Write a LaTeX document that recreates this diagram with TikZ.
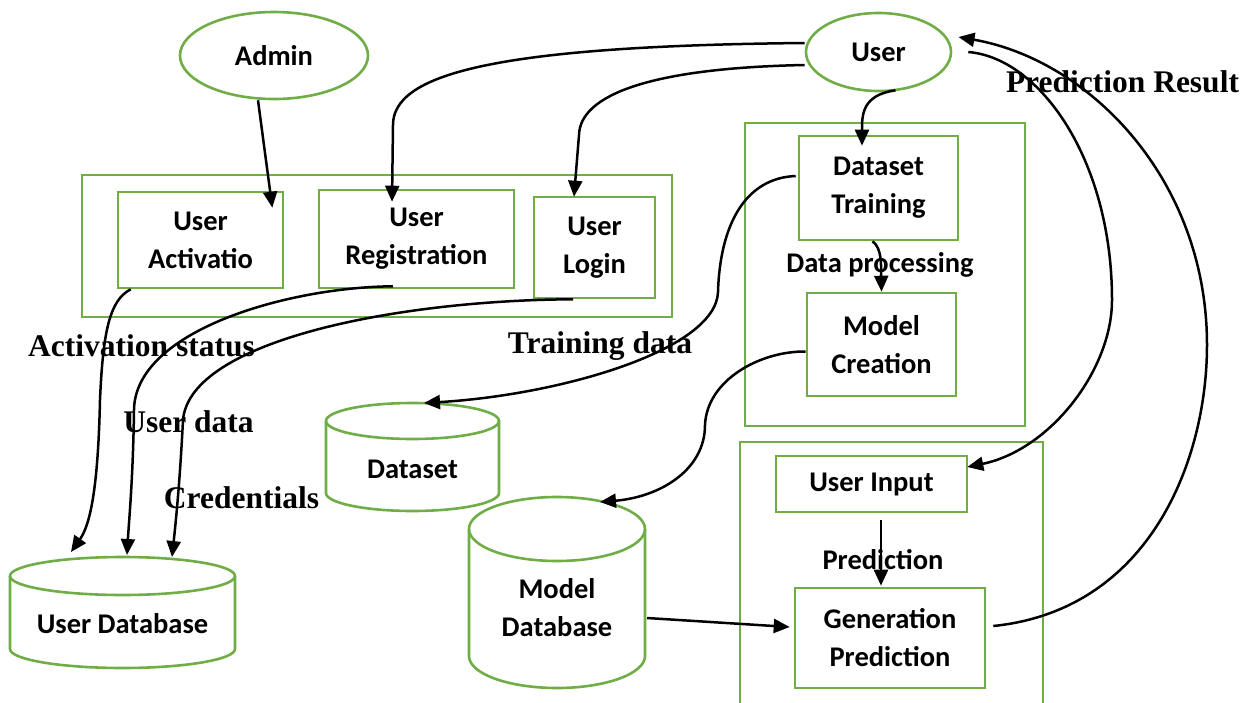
\documentclass[tikz,border=0pt]{standalone}
\usepackage{fontspec}
\setmainfont{Carlito}
\newfontfamily\tnr{Liberation Serif}
\usetikzlibrary{arrows.meta,shapes.geometric,calc}
\definecolor{grn}{RGB}{112,173,71}
\newcommand\cfont{\fontsize{28.5}{38}\selectfont\bfseries}
\newcommand\tfont{\tnr\fontsize{31.5}{36}\selectfont\bfseries}
% cylinder: cx, rx, y of top ellipse centre, y of bottom ellipse centre, ry
\newcommand\drawcyl[5]{%
  \pgfmathsetmacro\cxl{#1-#2}\pgfmathsetmacro\cxr{#1+#2}%
  \pgfmathsetmacro\kx{0.5523*#2}\pgfmathsetmacro\ky{0.5523*#5}%
  \draw[cylline] (#1,#3) ellipse [x radius=#2pt, y radius=#5pt];
  \draw[cylline] (\cxl,#3) -- (\cxl,#4) .. controls (\cxl,#4+\ky) and (#1-\kx,#4+#5) .. (#1,#4+#5)
     .. controls (#1+\kx,#4+#5) and (\cxr,#4+\ky) .. (\cxr,#4) -- (\cxr,#3);
}
\begin{document}
\begin{tikzpicture}[x=1pt,y=-1pt,
  box/.style={draw=grn, line width=2.6pt, inner sep=0pt, align=center, font=\cfont},
  cont/.style={draw=grn, line width=2.6pt, inner sep=0pt},
  actor/.style={ellipse, draw=grn, line width=2.6pt, inner sep=0pt, font=\cfont},
  cylline/.style={draw=grn, line width=2.6pt},
  txt/.style={inner sep=0pt, align=center, font=\cfont},
  lbl/.style={inner sep=0pt, font=\tfont},
  conn/.style={line width=2.5pt, -{Triangle[length=16pt,width=14pt]}}]
\useasboundingbox (0,0) rectangle (1251,702);

% containers
\node[cont, minimum width=590pt, minimum height=142pt] (c1) at (377,246) {};
\node[cont, minimum width=280pt, minimum height=303pt] (c2) at (885,274.5) {};
\node[cont, minimum width=303pt, minimum height=280pt] (c3) at (891.5,582) {};

% actors
\node[actor, minimum width=188pt, minimum height=87pt] (admin) at (274,55.5) {Admin};
\node[actor, minimum width=145pt, minimum height=78pt] (user) at (878.5,52) {User};

% process boxes
\node[box, minimum width=165pt, minimum height=96pt] (act) at (200.5,240) {User\\Activatio};
\node[box, minimum width=195pt, minimum height=98pt] (reg) at (416.5,239) {User\\Registration};
\node[box, minimum width=121pt, minimum height=101pt] (login) at (594.5,247.5) {User\\Login};
\node[box, minimum width=159pt, minimum height=104pt] (dt) at (878.5,188) {Dataset\\Training};
\node[box, minimum width=149pt, minimum height=103pt] (mc) at (881.5,344.5) {Model\\Creation};
\node[box, minimum width=191pt, minimum height=56pt] (ui) at (871.5,484) {User Input};
\node[box, minimum width=190pt, minimum height=100pt] (gp) at (890,638) {Generation\\Prediction};

% cylinders
\drawcyl{412.5}{86.5}{421}{493}{18}
\drawcyl{557}{88}{529}{656}{32}
\drawcyl{122.5}{112.5}{576}{649}{19}
\node[txt] (dsdb) at (412.5,469) {Dataset};
\node[txt] (mdb) at (557,608) {Model\\Database};
\node[txt] (udb) at (122.5,624) {User Database};

% inner labels
\node[txt] (dplbl) at (880,265) {Data processing};
\node[txt] (prlbl) at (883,560) {Prediction};

% serif labels
\node[lbl] (l1) at (141.5,346) {Activation status};
\node[lbl] (l2) at (600,346) {Training data};
\node[lbl] (l3) at (188.5,422) {User data};
\node[lbl] (l4) at (241.5,498) {Credentials};
\node[lbl] (l5) at (1122.5,82) {Prediction Result};

% connectors
\draw[conn] ($(admin.south)+(-16,0)$) -- ($(act.north east)+(-12,17)$);
\draw[conn] ($(user.west)+(0,-9)$) .. controls (490,46) and (393,75) .. (393,125) -- ($(reg.north)+(-24.5,13)$);
\draw[conn] ($(user.west)+(0,13)$) .. controls (650,68) and (580,95) .. (579,135) -- ($(login.north)+(-20.5,1)$);
\draw[conn] ($(user.south)+(17,-2)$) .. controls (862,95) and (862,115) .. ($(dt.north)+(-16.5,11)$);
\draw[conn] ($(dt.south)+(-6,0)$) .. controls (882,248) and (881,265) .. (mc.north);
\draw[conn] ($(dt.west)+(-2,-12)$) .. controls (745,178) and (720,225) .. (718,292)
   .. controls (716,350) and (560,395) .. ($(dsdb)+(11.5,-66)$);
\draw[conn] ($(mc.west)+(0,7)$) .. controls (760,351) and (707,380) .. (705,425)
   .. controls (705,470) and (660,497) .. ($(mdb)+(43,-106)$);
\draw[conn] ($(user.east)+(16,0)$) .. controls (1040,58) and (1112,160) .. (1112,300)
   .. controls (1112,370) and (1050,450) .. ($(ui.east)+(-1,-17)$);
\draw[conn] ($(gp.east)+(7,-12)$) .. controls (1150,610) and (1207,460) .. (1207,345)
   .. controls (1207,180) and (1090,60) .. ($(user)+(80,-15)$);
\draw[conn] ($(mdb)+(90,10)$) -- ($(gp.west)+(-4,-11)$);
\draw[conn] ($(ui.south)+(9.5,7)$) -- ($(gp.north)+(-9,-1)$);
\draw[conn] ($(act.south west)+(14,0)$) .. controls (110,300) and (103,330) .. (100,400)
   .. controls (98,490) and (90,525) .. ($(udb)+(-51.5,-72)$);
\draw[conn] ($(reg.south)+(-23.5,-3)$) .. controls (290,287) and (135,330) .. (134,410)
   .. controls (133,480) and (129,520) .. ($(udb)+(4.5,-69)$);
\draw[conn] ($(login.south)+(-21.5,0)$) .. controls (400,300) and (190,340) .. (183,420)
   .. controls (180,480) and (176,520) .. ($(udb)+(49.5,-67)$);
\end{tikzpicture}
\end{document}
